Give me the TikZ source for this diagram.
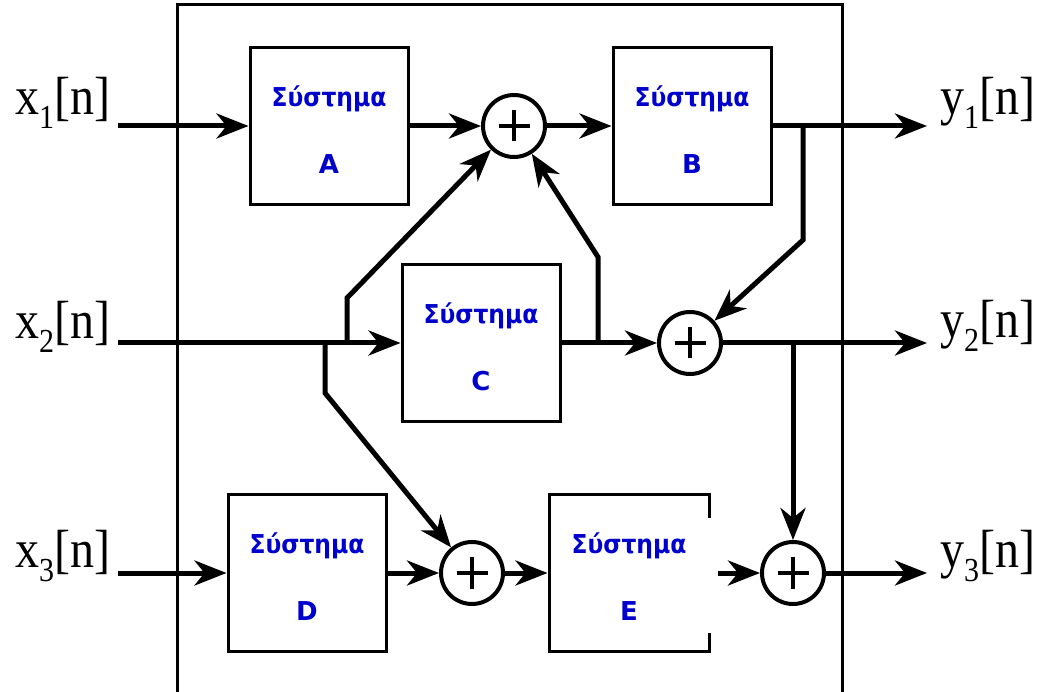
\documentclass[tikz,border=0pt]{standalone}
\usepackage{fontspec}
\setmainfont{Liberation Serif}
\newfontfamily\grk{DejaVu Sans}
\usetikzlibrary{arrows.meta}
\definecolor{lblue}{RGB}{0,0,205}
\newcommand{\sigl}[2]{\scalebox{1}[1.12]{#1\raisebox{-0.25em}{\fontsize{30}{32}\selectfont #2}[n]}}
\begin{document}
\begin{tikzpicture}[x=1pt,y=-1pt,
  sig/.style={line width=5pt, -{Stealth[length=32pt,width=25pt,inset=10pt]}},
  sysbox/.style={draw, line width=3pt, minimum width=158pt, minimum height=157pt, inner sep=0pt},
  sumnode/.style={circle, draw, line width=4pt, minimum size=62pt, inner sep=0pt,
    path picture={\draw[line width=3.8pt] (path picture bounding box.center) +(-15.5pt,0) -- +(15.5pt,0)
      (path picture bounding box.center) +(0,-15.5pt) -- +(0,15.5pt);}},
  grklbl/.style={text=lblue, font=\grk\bfseries\fontsize{26}{29}\selectfont, inner sep=0pt},
  io/.style={anchor=base west, font=\fontsize{48}{52}\selectfont, inner sep=0pt},
  frame/.style={line width=3pt},
]
\useasboundingbox (0,0) rectangle (1045,692);
\fill[white] (0,0) rectangle (1045,692);

% outer frame
\draw[frame] (177,692) -- (177,5) -- (842,5) -- (842,692);

% blocks
\node[sysbox] (A) at (329,126) {};
\node[sysbox] (B) at (692,126) {};
\node[sysbox] (C) at (481,343) {};
\node[sysbox] (D) at (307,573) {};
\node[sysbox, minimum width=160pt] (E) at (629,573) {};
\draw[white, line width=5pt] (709,518) -- (709,633);

\foreach \b/\l in {A/A,B/B,C/C,D/D,E/E}{
  \node[grklbl] (\b t) at ([yshift=27pt]\b.center) {\scalebox{0.9}[1]{Σύστημα}};
  \node[grklbl] (\b l) at ([yshift=-38pt]\b.center) {\l};
}

% summers
\node[sumnode] (S1) at (514,126) {};
\node[sumnode] (S2) at (690,343) {};
\node[sumnode] (S3) at (472,573) {};
\node[sumnode] (S4) at (793,573) {};

% inputs / outputs
\node[io] (lx1) at (15,115) {\sigl{x}{1}};
\node[io] (lx2) at (15,339) {\sigl{x}{2}};
\node[io] (lx3) at (15,568) {\sigl{x}{3}};
\node[io] (ly1) at (940,115) {\sigl{y}{1}};
\node[io] (ly2) at (940,338) {\sigl{y}{2}};
\node[io] (ly3) at (940,568) {\sigl{y}{3}};

\coordinate (x1in) at (118,126);
\coordinate (x2in) at (118,343);
\coordinate (x3in) at (118,573);
\coordinate (y1out) at (927,126);
\coordinate (y2out) at (927,343);
\coordinate (y3out) at (927,573);

% row 1
\draw[sig] (x1in) -- (A.west);
\draw[sig] (A.east) -- (S1.west);
\draw[sig] (S1.east) -- (B.west);
\draw[sig] (B.east) -- (y1out);
\coordinate (bB) at (803,126);
\coordinate (kB) at (803,240);
\draw[sig] (bB) -- (kB) -- (S2);

% row 2
\draw[sig] (x2in) -- (C.west);
\coordinate (bU) at (347,343);
\coordinate (kU) at (347,298);
\draw[sig] (bU) -- (kU) -- (S1);
\coordinate (bD) at (325,343);
\coordinate (kD) at (325,393);
\draw[sig] (bD) -- (kD) -- (S3);
\draw[sig] (C.east) -- (S2.west);
\coordinate (bC) at (598,343);
\coordinate (kC) at (598,257);
\draw[sig] (bC) -- (kC) -- (S1);
\draw[sig] (S2.east) -- (y2out);
\coordinate (b2) at (793,343);
\draw[sig] (b2) -- (S4.north);

% row 3
\draw[sig] (x3in) -- (D.west);
\draw[sig] (D.east) -- (S3.west);
\draw[sig] (S3.east) -- (E.west);
\coordinate (Eout) at (718,573);
\draw[sig] (Eout) -- (S4.west);
\draw[sig] (S4.east) -- (y3out);
\end{tikzpicture}
\end{document}
